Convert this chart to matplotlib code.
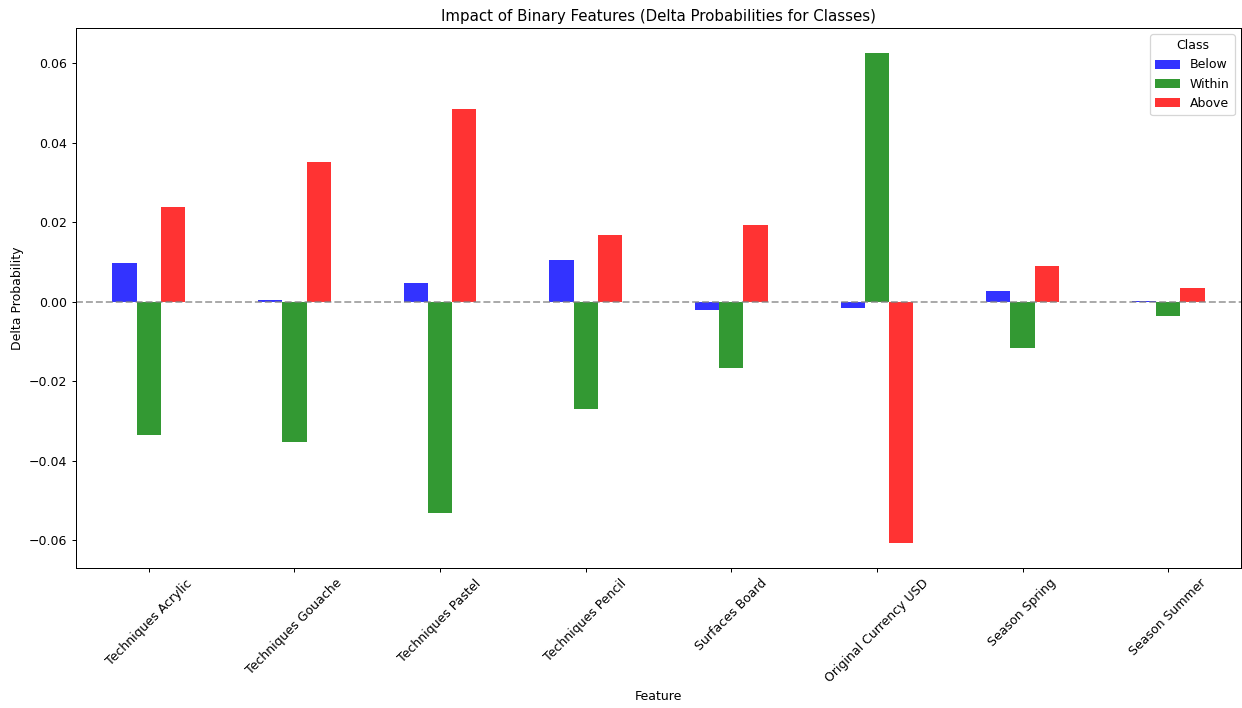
import matplotlib
matplotlib.use("Agg")
import matplotlib.pyplot as plt
import numpy as np

features = ["Techniques Acrylic", "Techniques Gouache", "Techniques Pastel", "Techniques Pencil",
            "Surfaces Board", "Original Currency USD", "Season Spring", "Season Summer"]
below = [0.0097, 0.0005, 0.0047, 0.0104, -0.0021, -0.0016, 0.0026, 0.0002]
within = [-0.0336, -0.0353, -0.0532, -0.0270, -0.0167, 0.0625, -0.0117, -0.0036]
above = [0.0238, 0.0351, 0.0484, 0.0167, 0.0192, -0.0607, 0.0089, 0.0034]
classes = ["Below", "Within", "Above"]
colors = ["blue", "green", "red"]

DPI = 90
fig = plt.figure(figsize=(1242 / DPI, 708 / DPI), dpi=DPI)
ax = fig.add_axes([76/1242, 1-568/708, (1241-76)/1242, (568-28)/708])

x = np.arange(len(features))
w = 0.5 / 3
for i, (vals, c, lab) in enumerate(zip([below, within, above], colors, classes)):
    ax.bar(x + (i - 1) * w, vals, width=w, color=c, alpha=0.8, label=lab)

ax.axhline(0, color="gray", linestyle="--", alpha=0.7)
ax.set_xlim(-0.5, len(features) - 0.5)
ax.set_ylim(-0.0670, 0.0688)
ax.set_xticks(x)
ax.set_xticklabels(features, rotation=45)
ax.set_title("Impact of Binary Features (Delta Probabilities for Classes)")
ax.set_xlabel("Feature")
ax.set_ylabel("Delta Probability")
ax.legend(title="Class", loc="upper right")

fig.savefig("out.png", dpi=DPI)
